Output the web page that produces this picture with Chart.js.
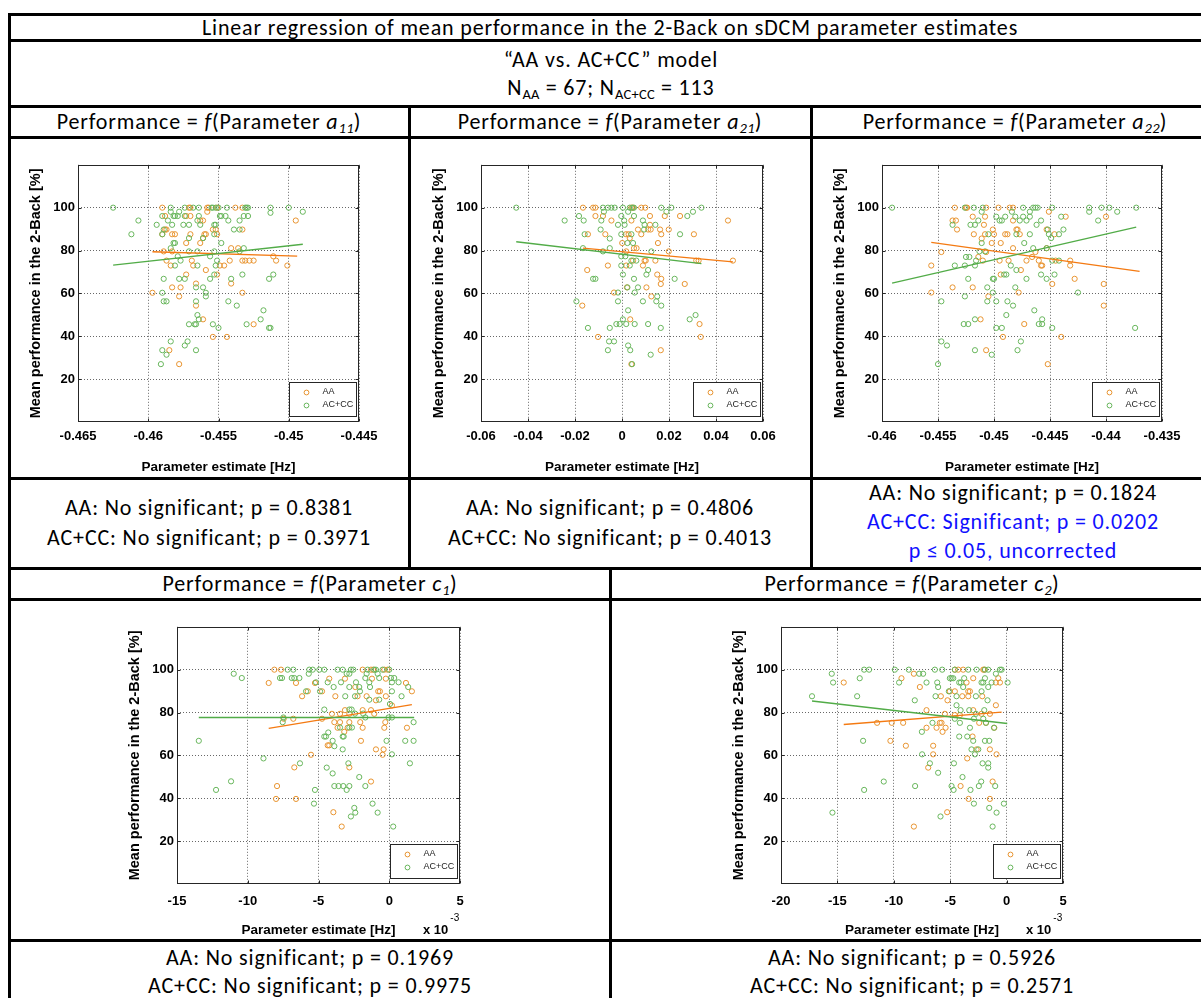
<!DOCTYPE html>
<html>
<head>
  <meta charset="UTF-8">
  <title>Linear regression 2-Back on sDCM parameters</title>
  <script src="https://cdn.jsdelivr.net/npm/chart.js@4.4.1/dist/chart.umd.min.js"></script>
  <style>
    body { margin: 0; background: #fff; width: 1201px; height: 998px; overflow: hidden; position: relative; }
    .ln { position: absolute; background: #000; z-index: 5; }
    .tx { position: absolute; text-align: center; white-space: nowrap; font-family: Carlito, Calibri, Lato, sans-serif; font-size: 22px; letter-spacing: 0.85px; color: #000; }
    .tx sub { font-size: 0.66em; vertical-align: -0.28em; line-height: 0; letter-spacing: 0.3px; }
    .cv { position: absolute; }
    .exp { position: absolute; font: bold 13px "Liberation Sans", Arial, sans-serif; white-space: nowrap; }
    .exp span { position: relative; top: -13px; left: 2px; font-size: 10px; font-weight: normal; }
  </style>
</head>
<body>
<script>
  // ---- data ----
  const legendLabels = ["AA", "AC+CC"];

  // a11, x in Hz
  const a11Ticks = [-0.465, -0.46, -0.455, -0.45, -0.445];
  const a11AA = [
    [-0.4590,100],[-0.4571,100],[-0.4570,100],[-0.4558,100],[-0.4557,100],[-0.4551,100],[-0.4538,100],[-0.4533,100],
    [-0.4558,98.1],[-0.4588,96.1],[-0.4573,96.1],[-0.4570,96.1],
    [-0.4563,94.0],[-0.4561,94.0],[-0.4495,94.0],
    [-0.4588,89.8],[-0.4587,89.8],[-0.4554,89.8],[-0.4552,89.8],[-0.4533,89.8],
    [-0.4590,87.6],[-0.4583,87.6],[-0.4581,87.6],[-0.4570,87.6],[-0.4560,87.6],[-0.4559,87.6],[-0.4551,87.6],
    [-0.4561,85.8],[-0.4573,83.5],[-0.4563,83.5],[-0.4541,81.1],[-0.4536,81.1],
    [-0.4589,79.6],[-0.4583,79.6],[-0.4511,77.3],
    [-0.4587,75.3],[-0.4569,75.3],[-0.4542,75.3],[-0.4533,75.3],[-0.4531,75.3],[-0.4528,75.3],[-0.4525,75.3],[-0.4509,75.3],
    [-0.4584,73.0],[-0.4568,73.0],[-0.4549,73.0],[-0.4546,73.0],[-0.4501,73.0],
    [-0.4559,70.9],[-0.4573,68.8],[-0.4551,68.8],[-0.4566,64.6],[-0.4541,64.6],
    [-0.4583,62.8],[-0.4577,62.8],[-0.4597,60.3],[-0.4533,60.3],[-0.4578,58.6],
    [-0.4566,54.3],[-0.4561,47.9],[-0.4525,45.6],[-0.4554,39.7],[-0.4544,39.7],
    [-0.4585,33.5],[-0.4578,27.0]
  ];
  const a11CC = [
    [-0.4625,100],[-0.4584,100],[-0.4574,100],[-0.4568,100],[-0.4564,100],[-0.4555,100],[-0.4554,100],[-0.4552,100],
    [-0.4550,100],[-0.4544,100],[-0.4531,100],[-0.4530,100],[-0.4529,100],[-0.4513,100],[-0.4500,100],
    [-0.4584,98.1],[-0.4578,98.1],[-0.4490,98.1],[-0.4513,97.6],
    [-0.4590,96.1],[-0.4582,96.1],[-0.4581,96.1],[-0.4579,96.1],[-0.4574,96.1],[-0.4564,96.1],[-0.4549,96.1],
    [-0.4548,96.1],[-0.4545,96.1],[-0.4532,96.1],[-0.4529,96.1],
    [-0.4607,94.0],[-0.4586,94.0],[-0.4565,94.0],[-0.4543,94.0],[-0.4535,94.0],
    [-0.4594,92.0],[-0.4583,92.0],[-0.4575,92.0],[-0.4571,92.0],[-0.4563,92.0],[-0.4553,92.0],[-0.4552,92.0],
    [-0.4589,89.8],[-0.4539,89.8],[-0.4535,89.8],[-0.4612,87.6],[-0.4590,87.6],[-0.4553,87.6],
    [-0.4571,85.8],[-0.4561,85.8],[-0.4582,83.5],[-0.4581,83.5],[-0.4548,83.5],
    [-0.4584,81.1],[-0.4532,81.1],[-0.4571,79.6],[-0.4565,79.6],[-0.4553,79.6],[-0.4535,79.6],
    [-0.4579,77.3],[-0.4556,77.3],[-0.4577,75.3],[-0.4551,75.3],
    [-0.4581,73.0],[-0.4565,73.0],[-0.4552,73.0],[-0.4533,68.8],[-0.4553,68.8],[-0.4511,68.8],
    [-0.4589,66.8],[-0.4578,66.8],[-0.4574,66.8],[-0.4556,66.8],[-0.4541,66.8],[-0.4514,66.8],
    [-0.4566,62.8],[-0.4561,62.8],[-0.4590,60.3],[-0.4559,60.3],[-0.4559,58.6],
    [-0.4589,56.3],[-0.4587,56.3],[-0.4566,56.3],[-0.4543,56.3],[-0.4537,54.3],[-0.4518,52.1],[-0.4565,49.9],
    [-0.4564,47.9],[-0.4520,47.9],[-0.4571,45.6],[-0.4567,45.6],[-0.4566,45.6],[-0.4554,45.6],[-0.4530,45.6],
    [-0.4550,43.9],[-0.4514,43.9],[-0.4513,43.9],[-0.4584,37.6],[-0.4572,37.6],[-0.4574,35.7],
    [-0.4590,33.5],[-0.4566,33.5],[-0.4587,31.4],[-0.4591,27.0]
  ];
  const a11FitAA = [[-0.4597,79.4],[-0.4494,77.4]];
  const a11FitCC = [[-0.4625,73.2],[-0.4490,82.9]];

  // a21, x in Hz
  const a21Ticks = [-0.06, -0.04, -0.02, 0, 0.02, 0.04, 0.06];
  const a21AA = [
    [-0.0166,100],[-0.0123,100],[-0.0113,100],[0.0040,100],[0.0047,100],[0.0082,100],[0.0099,100],
    [-0.0113,96.1],[-0.0081,96.1],[0.0119,96.1],[0.0182,96.1],[0.0247,96.1],
    [-0.0045,94.0],[0.0040,94.0],[0.0451,94.0],[0.0119,92.0],
    [0.0068,89.8],[0.0111,89.8],[0.0122,89.8],[0.0162,89.8],[0.0199,89.8],
    [-0.0145,87.6],[-0.0071,87.6],[0.0017,87.6],[0.0028,87.6],[0.0082,87.6],[0.0167,87.6],[0.0306,87.6],
    [0.0033,85.8],[0.0001,83.5],[0.0153,83.5],[0.0051,81.1],[0.0062,81.1],[0.0018,79.6],[0.0199,79.6],
    [0.0047,75.3],[0.0096,75.3],[0.0101,75.3],[0.0142,75.3],[0.0316,75.3],[0.0326,75.3],[0.0472,75.3],
    [-0.0060,73.0],[0.0018,73.0],[0.0089,73.0],[-0.0148,70.9],[0.0150,68.8],[0.0167,66.8],
    [0.0165,64.4],[0.0267,64.4],[0.0021,62.8],[0.0104,62.8],[-0.0034,60.4],[0.0125,58.6],
    [-0.0169,54.3],[0.0035,47.9],[0.0330,45.7],[-0.0102,39.7],[0.0335,39.7],[0.0165,33.5],[0.0040,27.0]
  ];
  const a21CC = [
    [-0.0450,100],[-0.0081,100],[-0.0060,100],[-0.0045,100],[-0.0031,100],[0.0004,100],[0.0033,100],[0.0044,100],
    [0.0051,100],[0.0167,100],[0.0210,100],[0.0338,100],
    [-0.0077,98.1],[0.0026,98.1],[0.0189,98.1],[0.0302,98.1],
    [-0.0183,96.1],[-0.0003,96.1],[0.0051,96.1],[0.0278,96.1],
    [-0.0244,94.0],[-0.0163,94.0],[-0.0088,94.0],[0.0009,94.0],[0.0089,94.0],
    [-0.0017,92.0],[0.0011,92.0],[0.0096,92.0],[0.0142,92.0],[-0.0091,89.8],[0.0094,89.8],
    [-0.0159,87.6],[-0.0003,87.6],[0.0040,87.6],[0.0247,87.6],[-0.0052,85.6],[0.0023,83.5],[0.0047,83.5],
    [-0.0166,81.1],[-0.0052,81.1],[-0.0081,79.6],[0.0125,79.6],[-0.0003,77.3],[0.0014,77.3],
    [0.0040,75.3],[0.0061,75.3],[-0.0003,73.0],[0.0033,73.0],[0.0111,70.9],[0.0004,68.8],[0.0104,68.8],
    [-0.0123,66.8],[-0.0113,66.8],[0.0051,66.8],[0.0224,66.8],[0.0023,62.8],[0.0068,62.8],
    [-0.0017,60.4],[0.0054,60.4],[0.0150,58.6],[-0.0194,56.3],[-0.0017,56.3],[0.0089,56.3],[0.0146,56.3],
    [0.0167,54.3],[0.0026,52.1],[0.0313,49.9],[0.0004,47.9],[0.0288,47.9],
    [-0.0024,45.7],[-0.0010,45.7],[0.0018,45.7],[0.0054,45.7],[0.0111,45.7],
    [-0.0145,43.9],[-0.0052,43.9],[0.0165,43.9],[-0.0055,37.6],[-0.0034,37.6],[0.0026,35.7],
    [-0.0060,33.5],[0.0035,33.5],[0.0122,31.4],[0.0043,27.0]
  ];
  const a21FitAA = [[-0.0166,81.1],[0.0472,74.7]];
  const a21FitCC = [[-0.0450,84.1],[0.0338,73.9]];

  // a22, x in Hz
  const a22Ticks = [-0.46, -0.455, -0.45, -0.445, -0.44, -0.435];
  const a22AA = [
    [-0.4535,100],[-0.4525,100],[-0.4524,100],[-0.4507,100],[-0.4496,100],[-0.4486,100],[-0.4483,100],
    [-0.4451,98.1],[-0.4519,95.8],[-0.4508,95.8],[-0.4436,95.8],[-0.4400,95.8],
    [-0.4537,94.0],[-0.4534,94.0],[-0.4483,94.0],[-0.4509,92.0],
    [-0.4533,89.8],[-0.4501,89.8],[-0.4480,89.8],[-0.4479,89.8],[-0.4453,89.8],
    [-0.4518,87.6],[-0.4508,87.6],[-0.4500,87.6],[-0.4490,87.6],[-0.4488,87.6],[-0.4477,87.6],[-0.4446,87.6],
    [-0.4511,85.6],[-0.4502,83.5],[-0.4494,83.5],[-0.4483,81.1],[-0.4453,81.1],
    [-0.4547,79.3],[-0.4507,79.3],[-0.4463,79.3],[-0.4514,77.0],[-0.4466,77.0],
    [-0.4510,75.3],[-0.4495,75.3],[-0.4487,75.3],[-0.4471,75.3],[-0.4460,75.3],[-0.4445,75.3],[-0.4432,75.3],
    [-0.4556,73.0],[-0.4458,73.0],[-0.4457,73.0],[-0.4432,73.0],[-0.4476,70.9],[-0.4494,68.8],[-0.4428,66.8],
    [-0.4448,64.4],[-0.4402,64.4],[-0.4537,62.8],[-0.4519,62.8],[-0.4556,60.4],[-0.4478,60.4],[-0.4505,58.6],
    [-0.4402,54.3],[-0.4512,47.9],[-0.4473,45.7],[-0.4492,39.7],[-0.4440,39.7],[-0.4507,33.5],[-0.4452,27.0]
  ];
  const a22CC = [
    [-0.4591,100],[-0.4526,100],[-0.4518,100],[-0.4510,100],[-0.4474,100],[-0.4465,100],[-0.4463,100],
    [-0.4461,100],[-0.4448,100],[-0.4415,100],[-0.4404,100],[-0.4397,100],[-0.4373,100],
    [-0.4511,98.1],[-0.4484,98.1],[-0.4468,98.1],[-0.4415,98.1],[-0.4390,98.1],
    [-0.4498,95.8],[-0.4490,95.8],[-0.4481,95.8],[-0.4474,95.8],[-0.4468,95.8],[-0.4440,95.8],
    [-0.4514,94.0],[-0.4495,94.0],[-0.4493,94.0],[-0.4477,94.0],[-0.4471,94.0],[-0.4458,94.0],[-0.4407,94.0],
    [-0.4537,92.0],[-0.4521,92.0],[-0.4517,92.0],[-0.4462,92.0],[-0.4452,89.8],[-0.4438,89.8],
    [-0.4505,87.6],[-0.4480,87.6],[-0.4468,87.6],[-0.4451,87.6],[-0.4442,87.6],[-0.4449,85.8],
    [-0.4511,83.5],[-0.4473,83.5],[-0.4465,81.1],[-0.4453,81.1],[-0.4513,79.6],[-0.4508,79.6],
    [-0.4525,77.0],[-0.4522,77.0],[-0.4516,75.3],[-0.4448,75.3],[-0.4442,75.3],
    [-0.4535,73.0],[-0.4526,73.0],[-0.4517,73.0],[-0.4485,73.0],[-0.4480,70.9],
    [-0.4491,68.8],[-0.4489,68.8],[-0.4458,68.8],[-0.4446,68.8],
    [-0.4523,66.8],[-0.4501,66.8],[-0.4500,66.8],[-0.4471,66.8],[-0.4453,66.8],
    [-0.4506,62.8],[-0.4481,62.8],[-0.4501,60.4],[-0.4425,60.4],[-0.4526,58.6],
    [-0.4547,56.3],[-0.4506,56.3],[-0.4498,56.3],[-0.4488,56.3],[-0.4483,54.3],[-0.4464,52.1],[-0.4489,49.9],
    [-0.4517,47.9],[-0.4457,47.9],[-0.4527,45.7],[-0.4523,45.7],[-0.4460,45.7],[-0.4457,45.7],
    [-0.4498,43.9],[-0.4493,43.9],[-0.4448,43.9],[-0.4374,43.9],[-0.4547,37.6],[-0.4476,37.6],[-0.4542,35.7],
    [-0.4517,33.5],[-0.4479,33.5],[-0.4502,31.4],[-0.4550,27.0]
  ];
  const a22FitAA = [[-0.4556,83.8],[-0.4370,70.3]];
  const a22FitCC = [[-0.4591,64.8],[-0.4373,90.9]];

  // c1, x in units of 10^-3 Hz
  const c1Ticks = [-15, -10, -5, 0, 5];
  const c1AA = [
    [-8.12,100],[-7.65,100],[-1.88,100],[-1.29,100],[-1.13,100],[-0.35,100],[-0.12,100],
    [-4.24,95.8],[-3.13,95.8],[-1.22,95.8],[-0.24,95.8],[-8.52,93.8],[-6.59,93.8],[-5.25,93.8],[1.18,93.8],
    [-2.40,91.9],[-5.76,89.9],[-4.75,89.9],[-0.78,89.9],[-0.66,89.9],[1.60,89.9],
    [-6.16,87.6],[-3.81,87.6],[-2.24,87.6],[-1.60,87.6],[-0.24,87.6],[-0.94,85.7],[0.19,83.3],
    [-3.13,81.1],[-1.88,81.1],[-1.29,81.1],[-4.05,79.4],[-3.48,79.4],[-2.82,79.4],[-1.06,79.4],
    [-7.46,77.1],[-6.78,77.1],[-4.75,77.1],[-3.88,75.5],[-3.48,75.5],[-2.82,75.5],[-2.05,75.5],[-0.28,75.5],
    [-3.65,72.9],[-2.94,72.9],[-1.88,72.9],[-0.35,72.9],[1.25,72.9],[-3.18,71.0],[-2.00,66.8],
    [-4.35,64.7],[-4.24,64.7],[-0.94,62.8],[-0.40,62.8],[-5.53,60.3],[-0.47,60.3],[-6.71,54.4],[-2.82,54.4],
    [-1.29,47.8],[-7.93,45.7],[-8.00,39.7],[-6.59,39.7],[-3.95,33.5],[-3.36,26.8]
  ];
  const c1CC = [
    [-7.18,100],[-6.78,100],[-5.65,100],[-5.41,100],[-4.94,100],[-4.59,100],[-3.65,100],[-3.29,100],
    [-2.71,100],[-2.54,100],[-1.53,100],[-1.06,100],[-0.94,100],[-0.47,100],[0,100],
    [-10.99,98.1],[-5.69,98.1],[-3.01,98.1],[-2.82,98.1],[-1.60,98.1],[-0.82,98.1],
    [-10.42,96.1],[-7.72,96.1],[-7.58,96.1],[-6.89,96.1],[-6.71,96.1],[-6.35,96.1],[-1.69,96.1],[-0.71,96.1],[0.12,96.1],[0.35,96.1],
    [-5.18,94.1],[-4.35,94.1],[-3.41,94.1],[-2.35,94.1],[-1.41,94.1],[0.19,94.1],[0.66,94.1],
    [-3.93,91.9],[-2.82,91.9],[-2.12,91.9],[-1.36,91.9],[1.34,91.9],
    [-5.88,89.9],[-4.89,89.9],[-2.07,89.9],[0.19,89.9],[-3.11,87.6],[-2.42,87.6],[0.87,87.6],
    [-1.41,86.0],[-0.71,86.0],[0.05,84.0],[-4.59,81.4],[-2.82,81.4],[-2.66,81.4],[-2.42,79.5],[-1.84,79.5],
    [-7.48,77.7],[-1.69,77.7],[-0.05,77.7],[0.19,77.7],[-7.53,75.5],[1.72,75.5],
    [-3.48,73.0],[-2.82,73.0],[-2.64,73.0],[-4.31,70.7],[-4.59,68.8],[-4.47,68.8],[-3.29,68.8],[-3.22,68.8],
    [-13.46,66.8],[-4.00,66.8],[-0.19,66.8],[1.13,66.8],[1.72,66.8],[-3.88,64.3],[-3.29,62.8],[0.19,60.5],
    [-8.89,58.6],[-6.31,56.3],[-2.89,56.3],[1.46,56.3],[-4.42,54.3],[-4.00,51.6],[-2.12,49.9],[-11.18,47.9],
    [-3.88,45.7],[-3.58,45.7],[-3.25,45.7],[-2.82,45.7],[-1.69,45.7],[-12.24,43.9],[-5.25,43.9],[-3.01,43.9],
    [-5.32,37.5],[-1.18,37.5],[-2.47,35.5],[-0.82,33.3],[-2.40,33.3],[-2.71,31.5],[0.28,26.8]
  ];
  const c1FitAA = [[-8.52,72.6],[1.60,83.7]];
  const c1FitCC = [[-13.46,77.7],[1.76,77.7]];

  // c2, x in units of 10^-3 Hz
  const c2Ticks = [-20, -15, -10, -5, 0, 5];
  const c2AA = [
    [-4.59,100],[-4.29,100],[-3.85,100],[-2.07,100],[-1.98,100],[-8.22,98.1],
    [-9.32,96.0],[-2.96,96.0],[-0.74,96.0],[-14.44,94.0],[-3.55,94.0],[-0.95,94.0],[-0.59,94.0],[-7.69,91.9],
    [-5.03,89.9],[-4.59,89.9],[-3.40,89.9],[-3.25,89.9],[-5.83,87.6],[-3.93,87.6],[-3.40,87.6],[-2.16,87.6],
    [-5.24,85.7],[-0.95,83.4],[-7.10,81.1],[-2.96,81.1],[-5.47,79.4],[-2.22,79.4],[-1.48,79.4],[-4.59,78.8],[-4.14,78.8],
    [-11.48,75.2],[-10.18,75.2],[-9.17,75.2],[-5.92,75.2],[-5.77,75.2],[-2.43,75.2],[-1.83,75.2],
    [-7.10,72.9],[-6.21,72.9],[-5.41,72.9],[-1.09,72.9],[-5.68,71.0],[-3.02,68.8],[-10.30,66.8],
    [-8.93,64.5],[-6.51,64.5],[-2.66,62.8],[-1.48,62.8],[-6.51,60.5],[-0.89,60.5],[-3.49,58.6],
    [-6.95,54.3],[-1.24,47.8],[-4.08,45.7],[-3.37,39.7],[-1.48,39.7],[-5.27,33.5],[-8.22,26.8]
  ];
  const c2CC = [
    [-12.63,100],[-12.19,100],[-9.91,100],[-8.67,100],[-6.36,100],[-5.71,100],[-4.59,100],[-3.40,100],
    [-2.66,100],[-1.92,100],[-1.63,100],[-0.59,100],[-0.44,100],
    [-15.50,98.1],[-7.75,98.1],[-7.40,98.1],[-0.95,98.1],
    [-13.02,96.0],[-5.03,96.0],[-4.88,96.0],[-4.73,96.0],[-3.76,96.0],[-1.92,96.0],
    [-15.38,94.0],[-9.53,94.0],[-7.10,94.0],[-6.15,94.0],[-4.20,94.0],[-4.05,94.0],[-2.22,94.0],[-2.07,94.0],[-1.33,94.0],[0.09,94.0],
    [-6.07,91.9],[-3.85,91.9],[-1.63,91.9],[-5.12,89.9],[-2.22,89.9],
    [-17.25,87.6],[-13.25,87.6],[-6.30,87.6],[-4.44,87.6],[-2.72,87.6],[-8.14,85.7],[-1.69,85.7],[-4.44,83.4],
    [-4.08,81.1],[-3.31,81.1],[-1.98,81.1],[-2.72,79.4],[-4.59,77.1],[-2.90,77.1],[-2.07,77.1],
    [-6.57,75.2],[-4.14,75.2],[-1.83,75.2],[-3.25,72.9],[-1.12,72.9],[-7.51,71.0],[-4.20,68.8],[-3.49,68.8],
    [-12.72,66.8],[-2.96,66.8],[-1.92,66.8],[-1.54,66.8],[-3.11,62.8],[-2.51,62.8],[-7.49,60.5],[-2.81,60.5],
    [-6.80,56.3],[-4.67,56.3],[-2.13,56.3],[-1.63,56.3],[-1.63,54.3],[-6.07,51.9],[-3.91,49.9],
    [-10.89,47.8],[-2.25,47.8],[-8.11,45.7],[-4.88,45.7],[-2.46,45.7],[-1.01,45.7],
    [-12.63,43.9],[-4.70,43.9],[-3.20,43.9],[-2.90,37.5],[-0.24,37.5],[-1.54,35.5],
    [-15.44,33.3],[-0.89,33.3],[-5.86,31.5],[-1.24,26.8]
  ];
  const c2FitAA = [[-14.44,74.4],[-0.44,80.2]];
  const c2FitCC = [[-17.25,85.4],[0.06,74.9]];

  const yTicks = [20, 40, 60, 80, 100];
  const yRange = [0, 120];

  // ---- layout ----
  const panels = [
    { aa: a11AA, cc: a11CC, fitAA: a11FitAA, fitCC: a11FitCC, ticks: a11Ticks, frame: [78, 164, 281, 258], exp: false },
    { aa: a21AA, cc: a21CC, fitAA: a21FitAA, fitCC: a21FitCC, ticks: a21Ticks, frame: [481, 164, 282, 258], exp: false },
    { aa: a22AA, cc: a22CC, fitAA: a22FitAA, fitCC: a22FitCC, ticks: a22Ticks, frame: [882, 164, 280, 258], exp: false },
    { aa: c1AA, cc: c1CC, fitAA: c1FitAA, fitCC: c1FitCC, ticks: c1Ticks, frame: [177, 626, 283, 258], exp: true },
    { aa: c2AA, cc: c2CC, fitAA: c2FitAA, fitCC: c2FitCC, ticks: c2Ticks, frame: [781, 626, 282, 258], exp: true }
  ];

  const ORANGE_PT = "rgb(232,148,48)", GREEN_PT = "rgb(104,182,92)";
  const ORANGE_LN = "rgb(244,122,18)", GREEN_LN = "rgb(82,172,72)";
  const tickFont = { family: "'Liberation Sans', Arial, sans-serif", size: 13, weight: "bold" };
  const xTitleFont = { family: "'Liberation Sans', Arial, sans-serif", size: 13.5, weight: "bold" };
  const yTitleFont = { family: "'Liberation Sans', Arial, sans-serif", size: 14.5, weight: "bold" };
  const PADL = 66, PADT = 10, PADR = 30, AXH = 56;

  // table lines
  const lines = [
    [8, 13, 1193, 3], [8, 13, 3, 985],
    [8, 39, 1193, 3], [8, 105, 1193, 3], [8, 136, 1193, 3], [8, 477, 1193, 3],
    [8, 567, 1193, 3], [8, 598, 1193, 3], [8, 939, 1193, 3],
    [408, 105, 3, 465], [810, 105, 3, 465], [609, 567, 3, 431]
  ];
  lines.forEach(([x, y, w, h]) => {
    const d = document.createElement("div");
    d.className = "ln";
    Object.assign(d.style, { left: x + "px", top: y + "px", width: w + "px", height: h + "px" });
    document.body.appendChild(d);
  });

  function addText(html, cx, cy, color) {
    const d = document.createElement("div");
    d.className = "tx";
    d.innerHTML = html;
    Object.assign(d.style, { left: (cx - 600) + "px", top: (cy - 14) + "px", width: "1200px", height: "28px", lineHeight: "28px" });
    if (color) d.style.color = color;
    document.body.appendChild(d);
  }

  const BLUE = "#1010ff";
  addText("Linear regression of mean performance in the 2-Back on sDCM parameter estimates", 610, 28);
  addText("\u201cAA vs. AC+CC\u201d model", 611, 60);
  addText("N<sub>AA</sub> = 67; N<sub>AC+CC</sub> = 113", 611, 88);
  addText("Performance = <i>f</i>(Parameter <i>a<sub>11</sub></i>)", 209, 122);
  addText("Performance = <i>f</i>(Parameter <i>a<sub>21</sub></i>)", 610, 122);
  addText("Performance = <i>f</i>(Parameter <i>a<sub>22</sub></i>)", 1015, 122);
  addText("AA: No significant; p = 0.8381", 209, 508);
  addText("AC+CC: No significant; p = 0.3971", 209, 538);
  addText("AA: No significant; p = 0.4806", 610, 508);
  addText("AC+CC: No significant; p = 0.4013", 610, 538);
  addText("AA: No significant; p = 0.1824", 1013, 493);
  addText("AC+CC: Significant; p = 0.0202", 1013, 522, BLUE);
  addText("p \u2264 0.05, uncorrected", 1013, 551, BLUE);
  addText("Performance = <i>f</i>(Parameter <i>c<sub>1</sub></i>)", 310, 584);
  addText("Performance = <i>f</i>(Parameter <i>c<sub>2</sub></i>)", 912, 584);
  addText("AA: No significant; p = 0.1969", 310, 958);
  addText("AC+CC: No significant; p = 0.9975", 310, 986);
  addText("AA: No significant; p = 0.5926", 912, 958);
  addText("AC+CC: No significant; p = 0.2571", 912, 986);

  // box frame with inward tick marks, like the original axes
  const framePlugin = {
    id: "frame",
    afterDraw(chart) {
      const { ctx, chartArea: a, scales } = chart;
      const l = Math.round(a.left) + 0.5, t = Math.round(a.top) + 0.5;
      const r = Math.round(a.right) - 0.5, b = Math.round(a.bottom) - 0.5;
      ctx.save();
      ctx.strokeStyle = "#262626";
      ctx.lineWidth = 1;
      ctx.strokeRect(l, t, r - l, b - t);
      ctx.beginPath();
      scales.x.ticks.forEach(tk => {
        const x = Math.round(scales.x.getPixelForValue(tk.value)) + 0.5;
        ctx.moveTo(x, b); ctx.lineTo(x, b - 3);
        ctx.moveTo(x, t); ctx.lineTo(x, t + 3);
      });
      scales.y.ticks.forEach(tk => {
        const y = Math.round(scales.y.getPixelForValue(tk.value)) + 0.5;
        ctx.moveTo(l, y); ctx.lineTo(l + 3, y);
        ctx.moveTo(r, y); ctx.lineTo(r - 3, y);
      });
      ctx.stroke();
      ctx.restore();
    }
  };

  // MATLAB-style legend box in the lower right corner
  const legendPlugin = {
    id: "boxLegend",
    afterDraw(chart) {
      const { ctx, chartArea: a } = chart;
      const w = 67, h = 34;
      const x0 = Math.round(a.right - 3 - w) + 0.5, y0 = Math.round(a.bottom - 6 - h) + 0.5;
      ctx.save();
      ctx.fillStyle = "#fff";
      ctx.fillRect(x0, y0, w, h);
      ctx.strokeStyle = "#262626";
      ctx.lineWidth = 1;
      ctx.strokeRect(x0, y0, w, h);
      const cols = [ORANGE_PT, GREEN_PT];
      ctx.font = "9px 'Liberation Sans', Arial, sans-serif";
      ctx.textBaseline = "middle";
      legendLabels.forEach((lab, i) => {
        const y = y0 + 10 + i * 13;
        ctx.beginPath();
        ctx.strokeStyle = cols[i];
        ctx.arc(x0 + 17, y, 2.4, 0, Math.PI * 2);
        ctx.stroke();
        ctx.fillStyle = "#222";
        ctx.fillText(lab, x0 + 33, y - 1);
      });
      ctx.restore();
    }
  };

  const toPts = arr => arr.map(([x, y]) => ({ x, y }));
  const fmt = v => String(+(+v).toFixed(4));

  panels.forEach(p => {
    const [fl, ft, fw, fh] = p.frame;
    const cv = document.createElement("canvas");
    cv.className = "cv";
    const W = PADL + fw + PADR, H = PADT + fh + AXH;
    cv.width = W; cv.height = H;
    cv.style.left = (fl - PADL) + "px";
    cv.style.top = (ft - PADT) + "px";
    cv.style.width = W + "px"; cv.style.height = H + "px";
    document.body.appendChild(cv);

    if (p.exp) {
      const e = document.createElement("div");
      e.className = "exp";
      e.innerHTML = "x 10<span>-3</span>";
      e.style.left = (fl + fw - 37) + "px";
      e.style.top = (ft + fh + 38) + "px";
      document.body.appendChild(e);
    }

    const pt = col => ({
      type: "scatter", pointStyle: "circle", pointRadius: 2.6, pointBorderWidth: 1,
      borderColor: col, backgroundColor: "rgba(0,0,0,0)", pointBackgroundColor: "rgba(0,0,0,0)", showLine: false
    });
    const ln = col => ({ type: "line", borderColor: col, borderWidth: 1.4, pointRadius: 0, fill: false, tension: 0 });

    new Chart(cv, {
      type: "scatter",
      data: {
        datasets: [
          Object.assign({ label: "fitCC", data: toPts(p.fitCC) }, ln(GREEN_LN)),
          Object.assign({ label: "fitAA", data: toPts(p.fitAA) }, ln(ORANGE_LN)),
          Object.assign({ label: legendLabels[1], data: toPts(p.cc) }, pt(GREEN_PT)),
          Object.assign({ label: legendLabels[0], data: toPts(p.aa) }, pt(ORANGE_PT))
        ]
      },
      options: {
        responsive: false, animation: false, devicePixelRatio: 1,
        layout: { padding: { left: 0, top: PADT, right: PADR, bottom: 0 } },
        plugins: { legend: { display: false }, tooltip: { enabled: false } },
        scales: {
          x: {
            type: "linear", position: "bottom",
            min: p.ticks[0], max: p.ticks[p.ticks.length - 1],
            afterBuildTicks: s => { s.ticks = p.ticks.map(v => ({ value: v })); },
            afterFit: s => { s.height = AXH; },
            ticks: { callback: fmt, font: tickFont, color: "#000", padding: p.exp ? 10 : 7, maxRotation: 0, autoSkip: false },
            grid: { color: "rgba(40,40,40,0.7)", lineWidth: 1, drawTicks: false },
            border: { display: false, dash: [1, 2] },
            title: { display: true, text: "Parameter estimate [Hz]", font: xTitleFont, color: "#000", padding: { top: 0, bottom: p.exp ? 2 : 3 } }
          },
          y: {
            type: "linear", position: "left",
            min: yRange[0], max: yRange[1],
            afterBuildTicks: s => { s.ticks = yTicks.map(v => ({ value: v })); },
            afterFit: s => { s.width = PADL; },
            ticks: { callback: fmt, font: tickFont, color: "#000", padding: 3 },
            grid: { color: "rgba(40,40,40,0.7)", lineWidth: 1, drawTicks: false },
            border: { display: false, dash: [1, 2] },
            title: { display: true, text: "Mean performance in the 2-Back [%]", font: yTitleFont, color: "#000", padding: { top: 15, bottom: 0 } }
          }
        }
      },
      plugins: [framePlugin, legendPlugin]
    });
  });
</script>
</body>
</html>
